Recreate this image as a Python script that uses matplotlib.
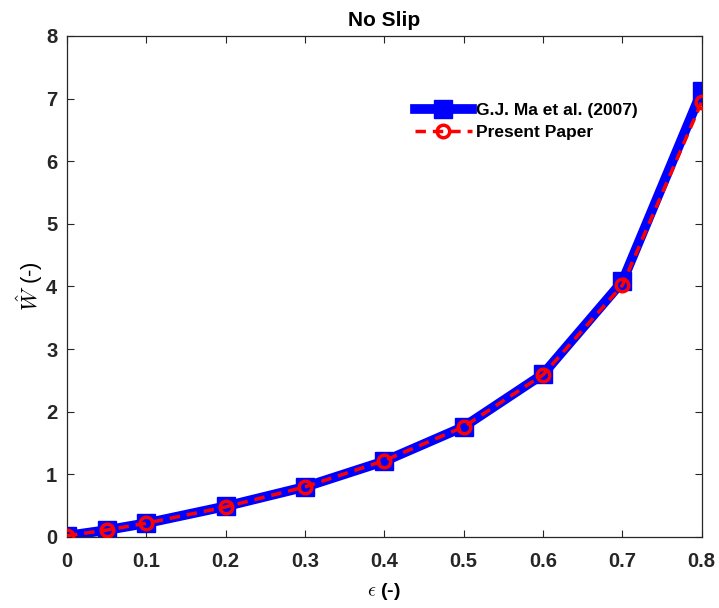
import numpy as np
import matplotlib.pyplot as plt

plt.rcParams['font.family'] = ['Liberation Sans', 'DejaVu Sans']
plt.rcParams['mathtext.fontset'] = 'cm'

eps = [0, 0.05, 0.1, 0.2, 0.3, 0.4, 0.5, 0.6, 0.7, 0.8]
w_ma = [0.02, 0.11, 0.22, 0.49, 0.80, 1.21, 1.76, 2.60, 4.08, 7.12]
w_present = [0.02, 0.11, 0.22, 0.48, 0.80, 1.22, 1.76, 2.59, 4.02, 6.95]
xticks = [0, 0.1, 0.2, 0.3, 0.4, 0.5, 0.6, 0.7, 0.8]
yticks = [0, 1, 2, 3, 4, 5, 6, 7, 8]

fig = plt.figure(figsize=(7.19, 6.08), dpi=100)
ax = fig.add_axes([0.0932, 0.1168, 0.8828, 0.824])

ax.plot(eps, w_ma, color='blue', lw=7, marker='s', ms=13,
        mfc='blue', mec='blue', label='G.J. Ma et al. (2007)', zorder=2)
ax.plot(eps, w_present, color='red', lw=2.5, ls=(0, (3, 2)), marker='o', ms=9,
        mfc='none', mec='red', mew=2.5, label='Present Paper', zorder=3)

ax.set_xlim(0, 0.8)
ax.set_ylim(0, 8)
ax.set_xticks(xticks)
ax.set_yticks(yticks)
ax.set_xticklabels([f'{t:g}' for t in xticks])
ax.tick_params(direction='in', top=True, right=True, length=5, width=0.8,
               labelsize=14.5, colors='#262626')
ax.tick_params(axis='x', pad=11)
ax.tick_params(axis='y', pad=7)
for lab in ax.get_xticklabels() + ax.get_yticklabels():
    lab.set_fontweight('bold')
for s in ax.spines.values():
    s.set_color('#262626')
    s.set_linewidth(0.9)

ax.set_title('No Slip', fontsize=15, fontweight='bold', pad=7)
ax.set_xlabel(r'$\epsilon$ (-)', fontsize=14, fontweight='bold', labelpad=7)
ax.set_ylabel(r'$\hat{W}$ (-)', fontsize=16, labelpad=1)

ax.legend(loc='upper left', bbox_to_anchor=(0.548, 0.867), frameon=False,
          prop={'weight': 'bold', 'size': 12.5}, handlelength=3.3,
          handletextpad=0.25, labelspacing=0.4, borderpad=0,
          borderaxespad=0)

fig.savefig('out.png', dpi=100)
